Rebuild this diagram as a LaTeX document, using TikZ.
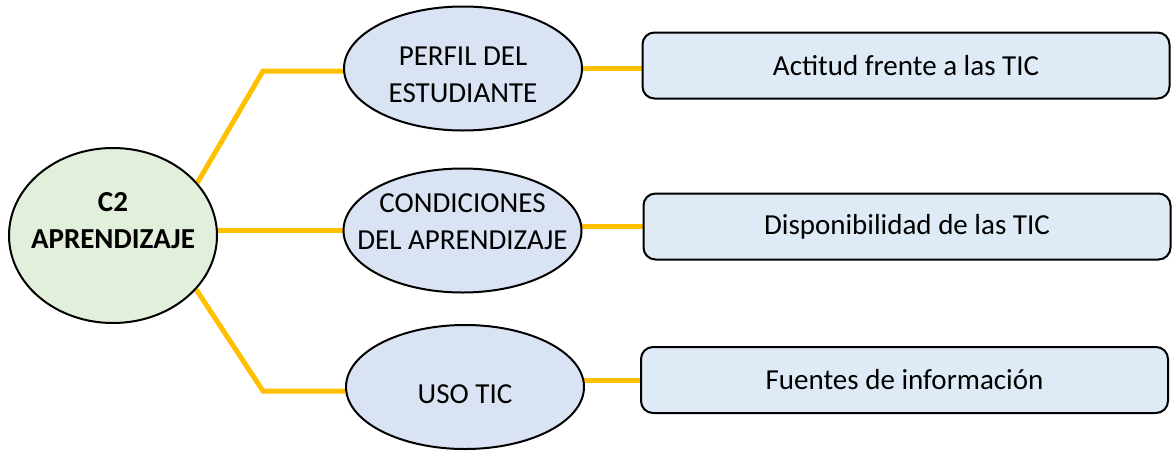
\documentclass[tikz,border=0pt]{standalone}
\usepackage{fontspec}
\setmainfont{Carlito}
\usetikzlibrary{shapes.geometric,backgrounds}
\definecolor{hubgreen}{HTML}{E2EFDA}
\definecolor{topicblue}{HTML}{DAE3F3}
\definecolor{itemblue}{HTML}{DEEBF7}
\definecolor{linkyellow}{HTML}{FFC000}

\begin{document}
\begin{tikzpicture}[x=1pt, y=-1pt, font=\fontsize{29}{37}\selectfont] % Styles
\tikzstyle{hub}=[draw, line width=2pt, ellipse, fill=hubgreen, inner sep=0pt, minimum width=208pt, minimum height=175pt]
\tikzstyle{topic}=[draw, line width=2pt, ellipse, fill=topicblue, inner sep=0pt, minimum width=238pt, minimum height=124pt]
\tikzstyle{item}=[draw, line width=2pt, rounded corners=12pt, fill=itemblue, minimum width=527pt, minimum height=66pt]
\tikzstyle{link}=[linkyellow, line width=5pt]
\useasboundingbox (0,0) rectangle (1172,450); % Nodes
\node[hub, label={[yshift=14.5pt, align=center, font=\fontsize{29}{37}\selectfont\bfseries]center:C2\\APRENDIZAJE}] (c2) at (113,235.5) {};
\node[topic, label={[yshift=-6pt, align=center]center:PERFIL DEL\\ESTUDIANTE}] (perfil) at (463,68.5) {};
\node[topic, label={[yshift=9pt, align=center]center:CONDICIONES\\DEL APRENDIZAJE}] (cond) at (462.5,230.5) {};
\node[topic, label={[yshift=-7pt]center:USO TIC}] (uso) at (465,387) {};
\node[item] (actitud) at (906,65.5) {Actitud frente a las TIC};
\node[item] (disp) at (907,226.5) {Disponibilidad de las TIC};
\node[item] (fuentes) at (904.5,380) {Fuentes de información};
\coordinate (k1) at (263,71);
\coordinate (k3) at (263,391); % Connections
\begin{scope}[on background layer]
\draw[link] (c2.32) -- (k1) -- (k1 -| perfil.west);
\draw[link] (cond.west) -- (cond.west -| c2.center);
\draw[link] (c2.-33) -- (k3) -- (k3 -| uso.west);
\draw[link] (perfil.east) -- (perfil.east -| actitud.west);
\draw[link] (disp.west) -- (disp.west -| cond.center);
\draw[link] (fuentes.west) -- (fuentes.west -| uso.center);
\end{scope}
\end{tikzpicture}
\end{document}
